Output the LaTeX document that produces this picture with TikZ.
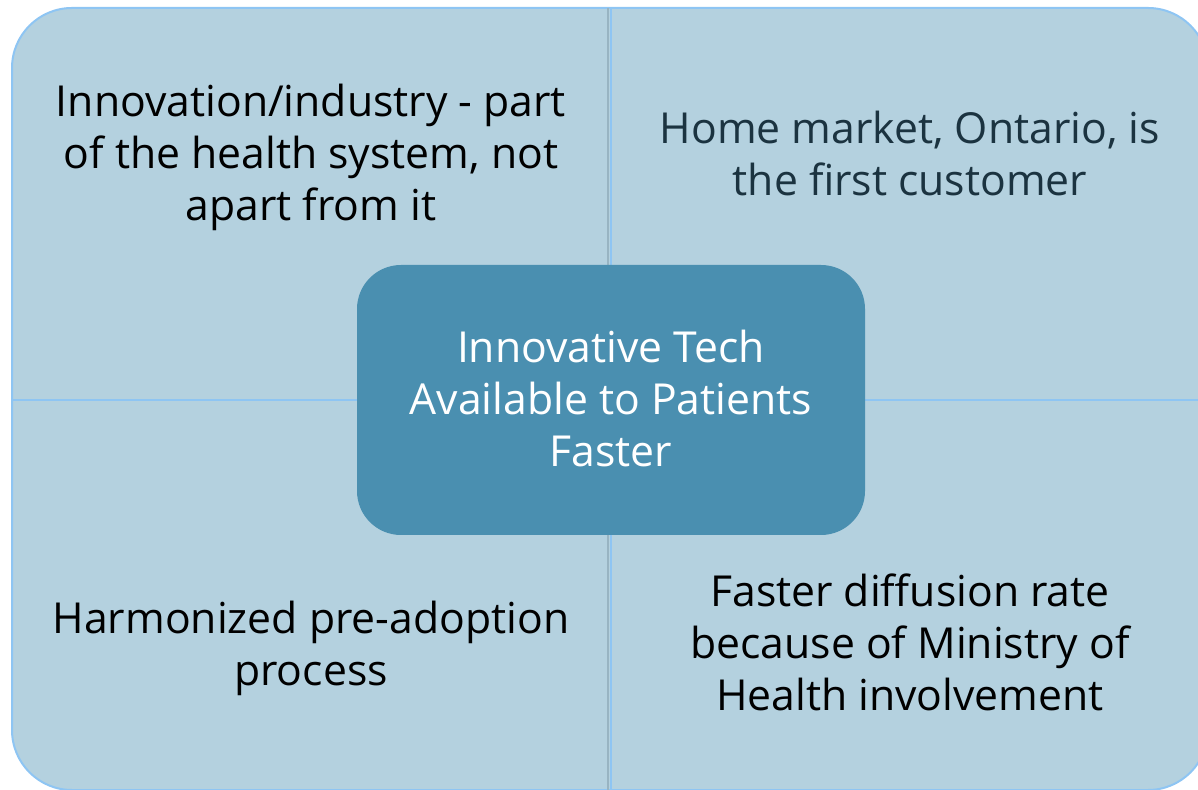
\documentclass[tikz,border=0pt]{standalone}
\usepackage{fontspec}
\setmainfont{Open Sans}
\definecolor{quadfill}{HTML}{B4D1DF}
\definecolor{quadline}{HTML}{8EC5F3}
\definecolor{hubfill}{HTML}{4A8FB0}
\definecolor{dividershade}{HTML}{98B4C2}
\definecolor{slate}{HTML}{1B3340}
\tikzset{
  quadtext/.style={align=center, font=\fontsize{42.7}{52}\selectfont, text=black, inner sep=0pt},
  hubbox/.style={rounded corners=44pt, fill=hubfill, minimum width=508pt, minimum height=270pt,
    align=center, text=white, font=\fontsize{42.7}{52}\selectfont, inner sep=0pt},
}
\begin{document}
\begin{tikzpicture}[x=1pt,y=1pt]
\useasboundingbox (0,0) rectangle (1198,789);
% outer field with the four quadrants
\draw[fill=quadfill, draw=quadline, line width=2pt, rounded corners=60pt] (12,-1) rectangle (1208,781);
\draw[dividershade, line width=2pt] (608,781) -- (608,-1);
\draw[quadline, line width=2pt] (610.5,781) -- (610.5,-1);
\draw[quadline, line width=2pt] (12,389) -- (1208,389);
% centre box
\node[hubbox] (hub) at (611,389) {};
\node[text=white, align=center, font=\fontsize{42.7}{52}\selectfont, inner sep=0pt] (hubtext) at (611,391) {Innovative Tech\\Available to Patients\\Faster};
% quadrant texts
\node[quadtext] (q1) at (311,632) {Innovation/industry - part\\of the health system, not\\apart from it};
\node[quadtext, text=slate] (q2) at (910,636) {Home market, Ontario, is\\the first customer};
\node[quadtext] (q3) at (311,141) {Harmonized pre-adoption\\process};
\node[quadtext] (q4) at (910,146.5) {Faster diffusion rate\\because of Ministry of\\Health involvement};
\end{tikzpicture}
\end{document}
